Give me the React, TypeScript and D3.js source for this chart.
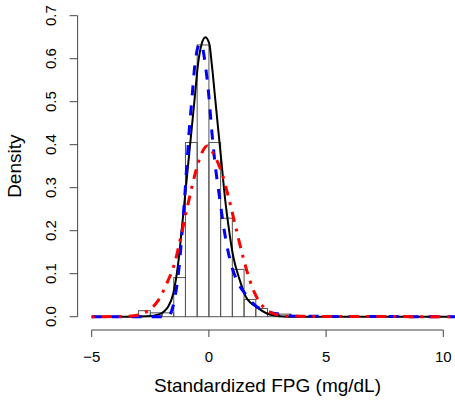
import React from "react";
import * as d3 from "d3";

// Histogram bins (lower edge, width 0.5) and densities
const binStarts = [-3, -2.5, -2, -1.5, -1, -0.5, 0, 0.5, 1, 1.5, 2, 2.5, 3];
const binDensity = [0.014, 0.009, 0.009, 0.091, 0.405, 0.632, 0.405, 0.229, 0.110, 0.040, 0.019, 0.006, 0.006];
const binWidth = 0.5;

// Black solid curve
const blackX = [-5, -3.4, -2.65, -2.1, -1.88, -1.74, -1.52, -1.31, -1.16, -1.02, -0.88, -0.74, -0.6, -0.46, -0.31, -0.15, 0.02, 0.12, 0.26, 0.4, 0.54, 0.68, 0.82, 1.05, 1.3, 1.57, 2.1, 2.67, 3.4, 10.6];
const blackY = [0, 0, 0.001, 0.006, 0.014, 0.023, 0.054, 0.124, 0.202, 0.279, 0.357, 0.434, 0.512, 0.589, 0.634, 0.65, 0.634, 0.589, 0.512, 0.434, 0.357, 0.279, 0.217, 0.137, 0.088, 0.047, 0.02, 0.004, 0, 0];

// Blue dashed curve
const blueX = [-5, -1.75, -1.6, -1.45, -1.3, -1.16, -1.05, -0.95, -0.85, -0.72, -0.6, -0.48, -0.38, -0.27, -0.16, 0, 0.12, 0.26, 0.45, 0.65, 0.9, 1.25, 1.6, 1.96, 2.4, 3.1, 3.8, 10.6];
const blueY = [0, 0, 0.012, 0.045, 0.1, 0.185, 0.265, 0.345, 0.425, 0.51, 0.585, 0.625, 0.635, 0.625, 0.589, 0.512, 0.434, 0.357, 0.279, 0.202, 0.132, 0.078, 0.05, 0.027, 0.014, 0.005, 0.001, 0];

// Red dot-dash curve
const redX = [-5, -3.5, -3.0, -2.52, -2.16, -1.8, -1.45, -1.2, -0.85, -0.55, -0.31, -0.07, 0.26, 0.56, 0.85, 1.18, 1.46, 1.7, 1.96, 2.32, 2.82, 3.4, 10.6];
const redY = [0, 0.001, 0.004, 0.017, 0.038, 0.077, 0.127, 0.185, 0.272, 0.34, 0.38, 0.397, 0.372, 0.333, 0.275, 0.2, 0.138, 0.092, 0.054, 0.023, 0.006, 0.001, 0];

const xTicks = [-5, 0, 5, 10];
const yTicks = [0, 0.1, 0.2, 0.3, 0.4, 0.5, 0.6, 0.7];
const xTitle = "Standardized FPG (mg/dL)";
const yTitle = "Density";

const W = 455;
const H = 400;
const FONT = "'Liberation Sans', Arial, Helvetica, sans-serif";

export default function App() {
  const x = d3.scaleLinear().domain([-5, 10]).range([91.7, 443.3]);
  const y = d3.scaleLinear().domain([0, 0.7]).range([316.7, 15.7]);
  const plotLeft = x(-5.6);
  const axisY = 330;

  const line = d3
    .line<[number, number]>()
    .x((d) => x(d[0]))
    .y((d) => y(d[1]))
    .curve(d3.curveMonotoneX);

  const zip = (a: number[], b: number[]) => a.map((v, i) => [v, b[i]] as [number, number]);

  return (
    <svg
      width={W}
      height={H}
      style={{ position: "absolute", left: 0, top: 0, background: "#fff" }}
      fontFamily={FONT}
    >
      <defs>
        <clipPath id="plot">
          <rect x={plotLeft} y={0} width={W - plotLeft} height={axisY} />
        </clipPath>
      </defs>
      {/* histogram */}
      <g fill="none" stroke="#555" strokeWidth={1}>
        {binStarts.map((b, i) => (
          <rect
            key={i}
            x={x(b)}
            y={y(binDensity[i])}
            width={x(b + binWidth) - x(b)}
            height={y(0) - y(binDensity[i])}
          />
        ))}
      </g>
      <g clipPath="url(#plot)" fill="none" strokeLinejoin="round">
        <path d={line(zip(blackX, blackY)) || ""} stroke="#000" strokeWidth={2} />
        <path d={line(zip(blueX, blueY)) || ""} stroke="#0000ff" strokeWidth={3} strokeDasharray="10 10" />
        <path d={line(zip(redX, redY)) || ""} stroke="#ff0000" strokeWidth={3} strokeDasharray="3 7 10 7" />
      </g>
      {/* axes */}
      <g stroke="#444" strokeWidth={1} fill="none">
        <line x1={x(-5)} x2={x(10)} y1={axisY} y2={axisY} />
        {xTicks.map((t) => (
          <line key={t} x1={x(t)} x2={x(t)} y1={axisY} y2={axisY + 7} />
        ))}
        <line x1={plotLeft} x2={plotLeft} y1={y(0)} y2={y(0.7)} />
        {yTicks.map((t) => (
          <line key={t} x1={plotLeft - 8} x2={plotLeft} y1={y(t)} y2={y(t)} />
        ))}
      </g>
      <g fontSize={15} fill="#000" textAnchor="middle">
        {xTicks.map((t) => (
          <text key={t} x={x(t)} y={362}>
            {t < 0 ? "\u2212" + Math.abs(t) : String(t)}
          </text>
        ))}
        {yTicks.map((t) => (
          <text key={t} transform={`translate(56,${y(t)}) rotate(-90)`}>
            {t.toFixed(1)}
          </text>
        ))}
      </g>
      <text x={(x(-5.6) + x(10.6)) / 2} y={392} fontSize={19} textAnchor="middle" fill="#000">
        {xTitle}
      </text>
      <text
        transform={`translate(21,${(y(-0.028) + y(0.728)) / 2}) rotate(-90)`}
        fontSize={19}
        textAnchor="middle"
        fill="#000"
      >
        {yTitle}
      </text>
    </svg>
  );
}
